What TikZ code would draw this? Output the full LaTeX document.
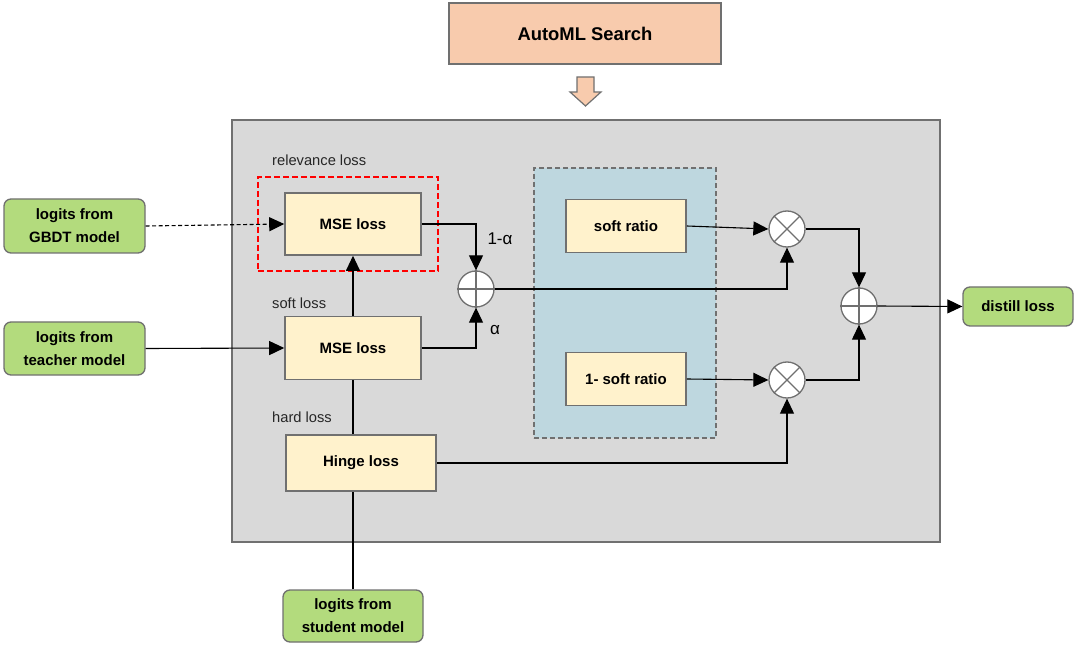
\documentclass[tikz,border=0pt]{standalone}
\usepackage{fontspec}
\setmainfont{Liberation Sans}
\usetikzlibrary{arrows.meta}
\definecolor{salmon}{HTML}{F8CBAD}
\definecolor{bggray}{HTML}{D9D9D9}
\definecolor{ybox}{HTML}{FFF2CC}
\definecolor{gbox}{HTML}{B3DB7D}
\definecolor{bbox}{HTML}{BED7DF}
\definecolor{bord}{HTML}{707070}
\begin{document}
\begin{tikzpicture}[x=1pt,y=-1pt,
  yellowbox/.style={draw=bord,line width=1.6pt,fill=ybox,inner sep=0pt,font=\fontsize{15}{18}\selectfont\bfseries},
  greenbox/.style={draw=bord,line width=1.3pt,fill=gbox,rounded corners=7pt,inner sep=0pt,align=center,font=\fontsize{15}{23}\selectfont\bfseries},
  opnode/.style={circle,draw=bord,line width=1.3pt,fill=white,minimum size=36pt,inner sep=0pt},
  lbl/.style={font=\fontsize{14.7}{17}\selectfont,text=black!85,inner sep=0pt},
  conn/.style={line width=1.1pt,black},
  arr/.style={conn,-{Triangle[length=15pt,width=14pt]}}
]
\useasboundingbox (0,0) rectangle (1080,647);
% top box and block arrow
\node[draw=bord,line width=1.3pt,fill=salmon,minimum width=272pt,minimum height=61pt,inner sep=0pt,font=\fontsize{18.4}{21}\selectfont\bfseries] (automl) at (585,33.5) {AutoML Search};
\draw[draw=bord,line width=1.2pt,fill=salmon] (577,77) -- (594,77) -- (594,92) -- (601,92) -- (585.5,106) -- (570,92) -- (577,92) -- cycle;
% big gray area
\node[draw=bord,line width=1.3pt,fill=bggray,minimum width=708pt,minimum height=422pt,inner sep=0pt] (main) at (586,331) {};
% blue dashed area
\node[draw=bord,dash pattern=on 5pt off 3pt,line width=1.3pt,fill=bbox,minimum width=182pt,minimum height=270pt,inner sep=0pt] (blue) at (625,303) {};
% red dashed area
\node[draw=red,dash pattern=on 6pt off 3pt,line width=1.3pt,minimum width=180pt,minimum height=94pt,inner sep=0pt] (red) at (348,224) {};
% labels
\node[lbl,anchor=west] (rl) at (272,160) {relevance loss};
\node[lbl,anchor=west] (sl) at (272,303) {soft loss};
\node[lbl,anchor=west] (hl) at (272,417) {hard loss};
% yellow boxes
\node[yellowbox,minimum width=136pt,minimum height=62pt] (mse1) at (353,224) {MSE loss};
\node[yellowbox,minimum width=136pt,minimum height=63pt] (mse2) at (353,348) {MSE loss};
\node[yellowbox,minimum width=150pt,minimum height=56pt] (hinge) at (361,463) {Hinge loss};
\node[yellowbox,minimum width=120pt,minimum height=53pt] (sr) at (626,226) {soft ratio};
\node[yellowbox,minimum width=120pt,minimum height=53pt] (sr2) at (626,379) {1- soft ratio};
% green boxes
\node[greenbox,minimum width=141pt,minimum height=54pt] (gbdt) at (74.5,226) {logits from\\GBDT model};
\node[greenbox,minimum width=141pt,minimum height=53pt] (teacher) at (74.5,348.5) {logits from\\teacher model};
\node[greenbox,minimum width=140pt,minimum height=52pt] (student) at (353,616) {logits from\\student model};
\node[greenbox,minimum width=110pt,minimum height=39pt] (distill) at (1018,306.5) {distill loss};
% operators
\node[opnode] (p1) at (476,289) {};
\draw[bord,line width=1.3pt] (p1.north) -- (p1.south) (p1.west) -- (p1.east);
\node[opnode] (t1) at (787,229) {};
\draw[bord,line width=1.3pt] (t1.north east) -- (t1.south west) (t1.north west) -- (t1.south east);
\node[opnode] (t2) at (787,380) {};
\draw[bord,line width=1.3pt] (t2.north east) -- (t2.south west) (t2.north west) -- (t2.south east);
\node[opnode] (p2) at (859,306) {};
\draw[bord,line width=1.3pt] (p2.north) -- (p2.south) (p2.west) -- (p2.east);
% connectors
\draw[arr,dash pattern=on 4pt off 2.5pt] (gbdt.east) -- (mse1.west);
\draw[arr] (teacher.east) -- (mse2.west);
\draw[arr] (mse2.north) -- (mse1.south);
\draw[conn] (mse2.south |- hinge.north) -- (mse2.south);
\draw[conn] (student.north) -- (student.north |- hinge.south);
\draw[arr] (mse1.east) -| (p1.north);
\draw[arr] (mse2.east) -| (p1.south);
\node[font=\fontsize{17}{20}\selectfont,inner sep=0pt] (l1) at (500,239) {1-α};
\node[font=\fontsize{17}{20}\selectfont,inner sep=0pt] (l2) at (495,330) {α};
\draw[arr] (p1.east) -| (t1.south);
\draw[arr] (sr.east) -- (t1.west);
\draw[arr] (sr2.east) -- (t2.west);
\draw[arr] (hinge.east) -| (t2.south);
\draw[arr] (t1.east) -| (p2.north);
\draw[arr] (t2.east) -| (p2.south);
\draw[arr] (p2.east) -- (distill.west);
\end{tikzpicture}
\end{document}
